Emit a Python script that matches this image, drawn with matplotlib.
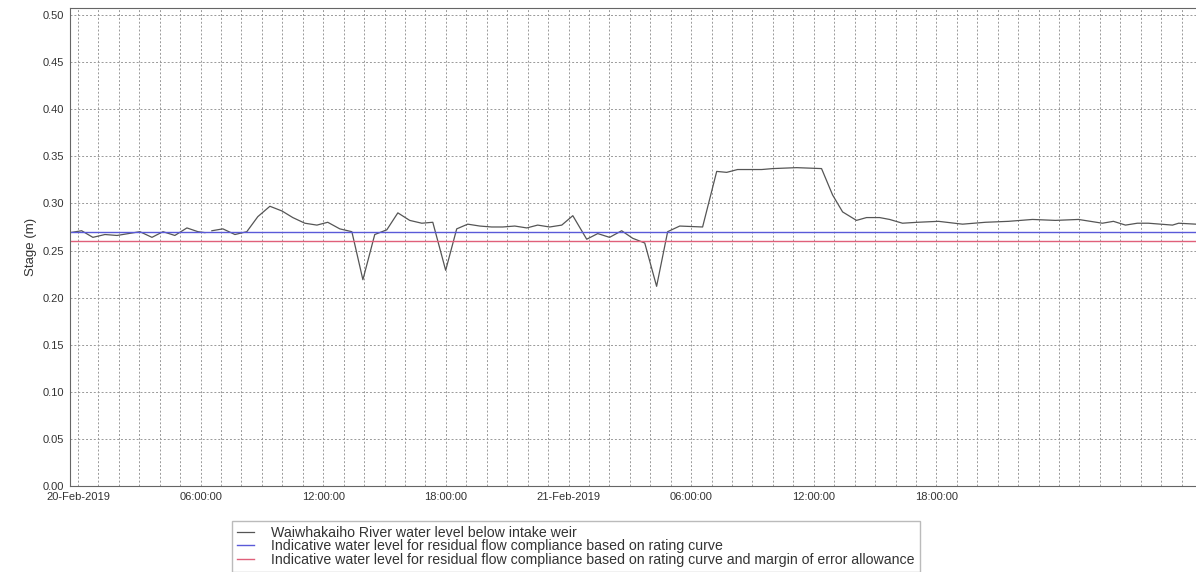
import matplotlib
matplotlib.use("Agg")
import matplotlib.pyplot as plt
import numpy as np

plt.rcParams['font.family'] = ['Liberation Sans', 'DejaVu Sans']

# hours since 20-Feb-2019 00:00
hours = [-0.39, 0.18, 0.73, 1.32, 1.91, 3.03, 3.62, 4.16, 4.74, 5.33, 5.87, 6.21, np.nan,
         6.55, 7.09, 7.68, 8.26, 8.80, 9.39, 9.98, 10.51, 11.10, 11.69, 12.22, 12.81,
         13.40, 13.94, 14.52, 15.11, 15.65, 16.23, 16.82, 17.36, 17.99, 18.53, 19.07,
         19.66, 20.24, 20.78, 21.37, 21.96, 22.49, 23.08, 23.67, 24.21, 24.89, 25.43,
         26.01, 26.60, 27.14, 27.73, 28.31, 28.85, 29.44, 30.56, 31.25, 31.74, 32.27,
         33.45, 33.99, 35.16, 36.38, 36.92, 37.41, 38.09, 38.58, 39.22, 39.71, 40.34,
         41.08, 42.10, 43.28, 44.40, 45.53, 46.70, 47.82, 48.95, 50.12, 50.66, 51.25,
         51.83, 52.37, 53.55, 53.85, 54.69]
stage = [0.269, 0.271, 0.264, 0.267, 0.266, 0.270, 0.264, 0.270, 0.266, 0.274, 0.270, 0.269, np.nan,
         0.271, 0.273, 0.267, 0.270, 0.286, 0.297, 0.292, 0.285, 0.279, 0.277, 0.280, 0.273,
         0.270, 0.219, 0.267, 0.272, 0.290, 0.282, 0.279, 0.280, 0.229, 0.273, 0.278,
         0.276, 0.275, 0.275, 0.276, 0.274, 0.277, 0.275, 0.277, 0.287, 0.262, 0.268,
         0.264, 0.271, 0.263, 0.258, 0.212, 0.270, 0.276, 0.275, 0.334, 0.333, 0.336,
         0.336, 0.337, 0.338, 0.337, 0.309, 0.291, 0.282, 0.285, 0.285, 0.283, 0.279,
         0.280, 0.281, 0.278, 0.280, 0.281, 0.283, 0.282, 0.283, 0.279, 0.281, 0.277,
         0.279, 0.279, 0.277, 0.279, 0.278]
compliance_level = 0.270
margin_level = 0.260
tick_hours = [0, 6, 12, 18, 24, 30, 36, 42]
tick_labels = ['20-Feb-2019', '06:00:00', '12:00:00', '18:00:00',
               '21-Feb-2019', '06:00:00', '12:00:00', '18:00:00']
labels = ['Waiwhakaiho River water level below intake weir',
          'Indicative water level for residual flow compliance based on rating curve',
          'Indicative water level for residual flow compliance based on rating curve and margin of error allowance']

fig = plt.figure(figsize=(11.96, 5.72), dpi=100)
ax = fig.add_axes([70/1196, 86/572, 1 - 70/1196, 478/572])
xmin, xmax = -0.39, 54.7
ax.plot(hours, stage, color='#555555', lw=0.9, label=labels[0])
ax.axhline(compliance_level, color='#5a5ad8', lw=1.0, label=labels[1])
ax.axhline(margin_level, color='#e0607a', lw=1.0, label=labels[2])
ax.set_xlim(xmin, xmax)
ax.set_ylim(0, 0.5075)
ax.set_yticks(np.arange(0, 0.501, 0.05))
ax.set_yticklabels([f'{v:.2f}' for v in np.arange(0, 0.501, 0.05)], fontsize=8, color='#333333')
ax.set_xticks(tick_hours)
ax.set_xticklabels(tick_labels, fontsize=8, color='#333333')
ax.set_xticks(np.arange(0, 55, 1), minor=True)
ax.tick_params(axis='x', which='both', length=0, pad=4)
ax.tick_params(axis='y', length=0, pad=4)
ax.grid(True, which='both', axis='x', color='#999999', ls=(0, (2, 2)), lw=0.7)
ax.grid(True, which='major', axis='y', color='#999999', ls=(0, (2, 2)), lw=0.7)
ax.set_ylabel('Stage (m)', fontsize=9.5, color='#333333')
ax.spines['right'].set_visible(False)
for s in ['left', 'top', 'bottom']:
    ax.spines[s].set_color('#666666')
leg = fig.legend(loc='upper left', bbox_to_anchor=(225/1196, 1 - 514/572), fontsize=10.2,
                 frameon=True, fancybox=False, edgecolor='#aaaaaa', handlelength=1.2,
                 handletextpad=1.2, borderpad=0.35, labelspacing=-0.05)
for t in leg.get_texts():
    t.set_color('#333333')
fig.savefig('out.png', dpi=100)
